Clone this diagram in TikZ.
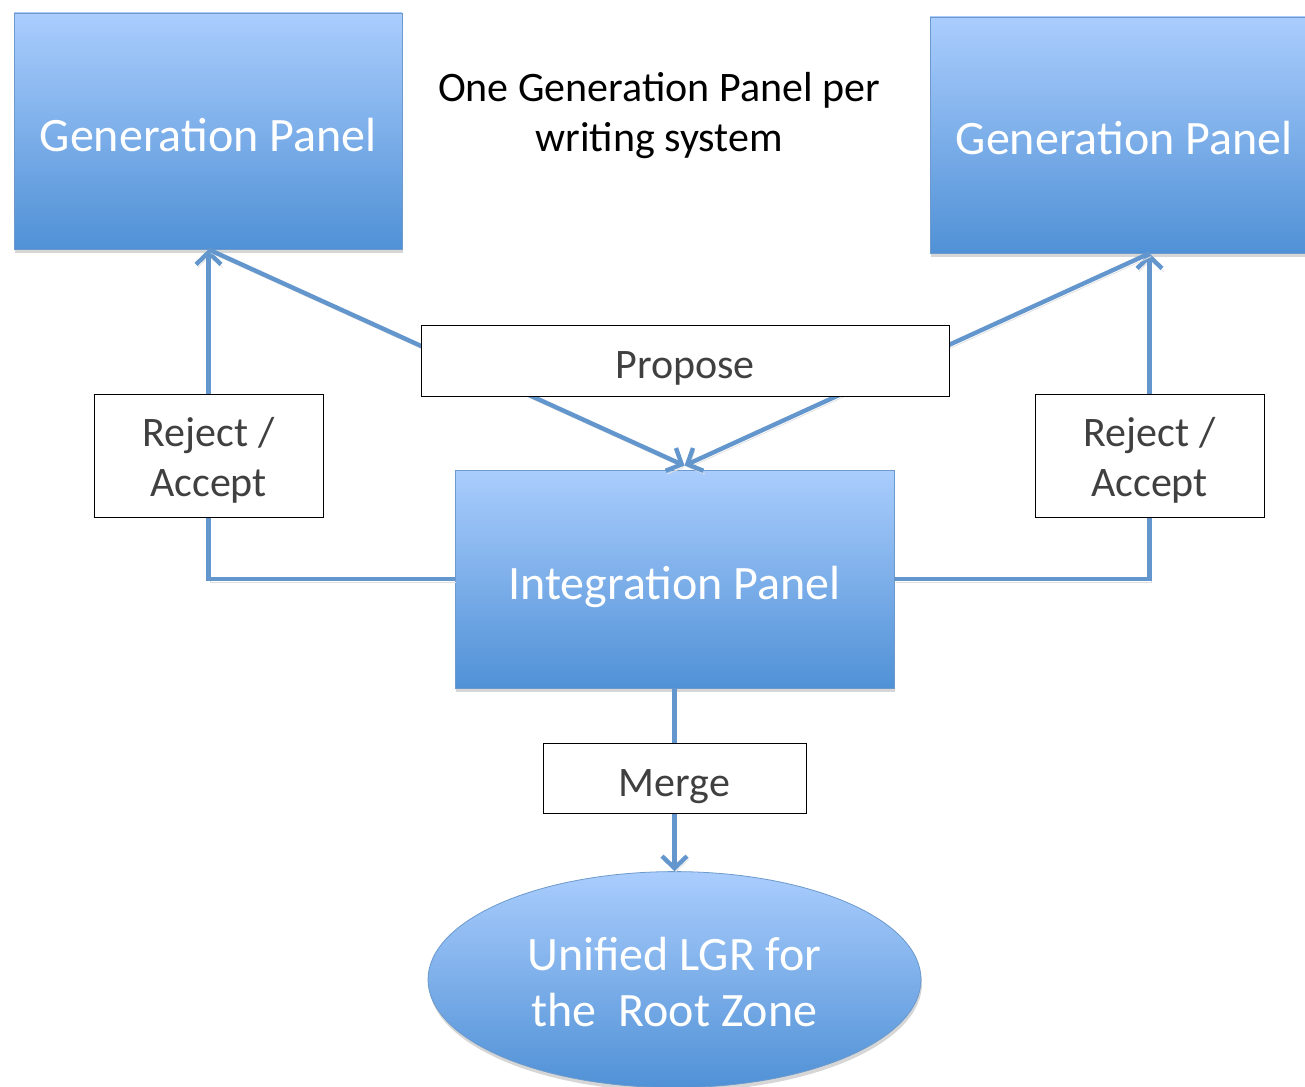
\documentclass[tikz,border=0pt]{standalone}
\usepackage{fontspec}
\setmainfont{Carlito}
\usetikzlibrary{calc,shapes,shadows,backgrounds,positioning,arrows.meta}
\definecolor{panelTop}{RGB}{170,205,253}
\definecolor{panelBot}{RGB}{80,145,214}
\definecolor{panelEdge}{RGB}{108,154,205}
\definecolor{lineBlue}{RGB}{98,150,205}
\definecolor{labelGray}{RGB}{64,64,64}
\pgfdeclarelayer{front}
\pgfsetlayers{background,main,front}
\tikzset{
panel/.style={
  rectangle,
  draw=panelEdge,
  top color=panelTop,
  bottom color=panelBot,
  text=white,
  align=center,
  font=\fontsize{24}{28}\selectfont,
  drop shadow={shadow xshift=0.5pt,shadow yshift=-2pt,fill=black!16,opacity=1},
  inner sep=0pt},
box/.style={panel, text height=20pt, text depth=0pt},
store/.style={panel, ellipse, text height=47pt, text depth=0pt},
tag/.style={
  rectangle,
  draw,
  fill=white,
  text=labelGray,
  align=center,
  font=\fontsize{21}{25}\selectfont,
  inner sep=0pt},
step tag/.style={tag, text height=18pt, text depth=0pt},
choice/.style={tag, text height=40.6pt, text depth=0pt},
flow/.style={draw=lineBlue, line width=2.2pt, -{Straight Barb[length=6pt,width=12.5pt]},
  preaction={draw=black!12, transform canvas={shift={(0.8pt,-1.6pt)}}}}
}

\begin{document}
\begin{tikzpicture}[x=0.5pt,y=-0.5pt]
    \useasboundingbox (0,0) rectangle (1305,1086);
    \node [box, minimum width=194pt, minimum height=118pt] (gen1) at (208,131) {Generation Panel};
    \node [box, minimum width=194pt, minimum height=118pt] (gen2) at (1124,135) {Generation Panel};
    \node [align=center, font=\fontsize{21}{25}\selectfont] (note) at (659,116) {One Generation Panel per\\writing system};
    \node [box, minimum width=219.5pt, minimum height=109pt] (integ) at (674.5,579) {Integration Panel};
    \begin{pgfonlayer}{front}
    \node [step tag, minimum width=264pt, minimum height=35.5pt, above=36.5pt of integ.north, xshift=5.25pt] (propose) {Propose};
    \node [choice, minimum width=114.5pt, minimum height=61.5pt] (rej1) at (208.5,455.5) {Reject /\\Accept};
    \node [choice, minimum width=114.5pt, minimum height=61.5pt] (rej2) at (1149.5,455.5) {Reject /\\Accept};
    \node [step tag, minimum width=131.5pt, minimum height=35pt, below=27.5pt of integ] (merge) {Merge};
    \end{pgfonlayer}
    \node [store, minimum width=246.5pt, minimum height=108pt, below=28.5pt of merge] (lgr) {Unified LGR for\\the\ \ Root Zone};
    \path [flow] (integ.west) -| (gen1.south -| rej1);
    \path [flow] (integ.east) -| (gen2.south -| rej2);
    \path [flow] (gen1.south -| rej1) -- ($(integ.north)+(10,-4)$);
    \path [flow] (gen2.south -| rej2) -- ($(integ.north)+(10,-4)$);
    \path [flow] (integ.south) -- (lgr.north);
\end{tikzpicture}
\end{document}
